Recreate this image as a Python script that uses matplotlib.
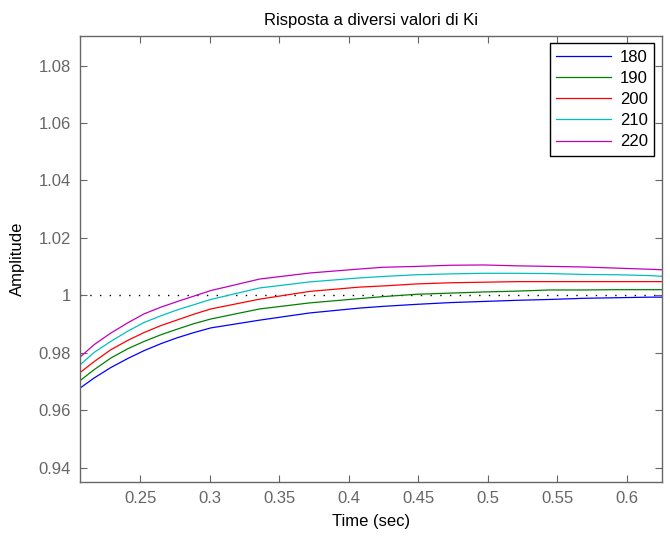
import matplotlib
matplotlib.use("Agg")
import matplotlib.pyplot as plt

# step responses for several Ki values
t = [0.2069, 0.2170, 0.2289, 0.2409, 0.2529, 0.2649, 0.2769, 0.2889, 0.3009, 0.336,
     0.372, 0.408, 0.425, 0.449, 0.473, 0.497, 0.521, 0.545, 0.569, 0.593, 0.617, 0.627]
ki_labels = ["180", "190", "200", "210", "220"]
y_180 = [0.9678, 0.9713, 0.9749, 0.9780, 0.9808, 0.9832, 0.9853, 0.9871, 0.9887, 0.9914,
         0.9939, 0.9956, 0.9962, 0.9969, 0.9975, 0.9979, 0.9983, 0.9986, 0.9990, 0.9992,
         0.9994, 0.9994]
y_190 = [0.9704, 0.9742, 0.9782, 0.9814, 0.9840, 0.9863, 0.9883, 0.9902, 0.9918, 0.9953,
         0.9974, 0.9989, 0.9996, 1.0004, 1.0008, 1.0012, 1.0015, 1.0019, 1.0019, 1.0020,
         1.0020, 1.0020]
y_200 = [0.9732, 0.9770, 0.9811, 0.9843, 0.9871, 0.9895, 0.9915, 0.9935, 0.9953, 0.9987,
         1.0014, 1.0029, 1.0033, 1.0040, 1.0044, 1.0046, 1.0048, 1.0048, 1.0048, 1.0048,
         1.0048, 1.0048]
y_210 = [0.9759, 0.9802, 0.9840, 0.9875, 0.9906, 0.9929, 0.9950, 0.9968, 0.9986, 1.0026,
         1.0047, 1.0061, 1.0066, 1.0072, 1.0075, 1.0077, 1.0077, 1.0076, 1.0073, 1.0072,
         1.0069, 1.0066]
y_220 = [0.9786, 0.9829, 0.9869, 0.9904, 0.9936, 0.9959, 0.9979, 0.9998, 1.0017, 1.0057,
         1.0078, 1.0092, 1.0098, 1.0101, 1.0105, 1.0106, 1.0103, 1.0101, 1.0099, 1.0095,
         1.0091, 1.0089]
x_ticks = [0.25, 0.3, 0.35, 0.4, 0.45, 0.5, 0.55, 0.6]
y_ticks = [0.94, 0.96, 0.98, 1.0, 1.02, 1.04, 1.06, 1.08]

series = [y_180, y_190, y_200, y_210, y_220]
colors = ["#0000ff", "#008000", "#ff0000", "#00bfbf", "#bf00bf"]

plt.rcParams["font.family"] = ["Liberation Sans", "DejaVu Sans"]
gray = "#666666"

fig = plt.figure(figsize=(6.7, 5.4), dpi=100)
ax = fig.add_axes([0.1187, 0.107, 0.8693, 0.827])

for ys, c, lab in zip(series, colors, ki_labels):
    ax.plot(t, ys, color=c, lw=0.9, label=lab)
ax.axhline(1.0, color="black", lw=1.0, ls=(0, (1, 6)), zorder=1)

ax.set_xlim(0.2064, 0.6255)
ax.set_ylim(0.935, 1.0904)
ax.set_xticks(x_ticks)
ax.set_xticklabels([f"{v:g}" for v in x_ticks])
ax.set_yticks(y_ticks)
ax.set_yticklabels([f"{v:g}" for v in y_ticks])
ax.tick_params(direction="in", top=True, right=True, length=5, width=0.8,
               color=gray, labelcolor=gray, labelsize=12, pad=6)
for s in ax.spines.values():
    s.set_color(gray)
    s.set_linewidth(1.0)

ax.set_xlabel("Time (sec)", fontsize=12, labelpad=6)
ax.set_ylabel("Amplitude", fontsize=12, labelpad=10)
ax.set_title("Risposta a diversi valori di Ki", fontsize=12, pad=8)

leg = ax.legend(loc="upper right", fontsize=12, fancybox=False, framealpha=1,
                edgecolor="black", handlelength=3.3, handletextpad=0.5,
                borderpad=0.4, labelspacing=0.37, borderaxespad=0.45)
leg.get_frame().set_linewidth(1.0)

fig.savefig("out.png", dpi=100)
